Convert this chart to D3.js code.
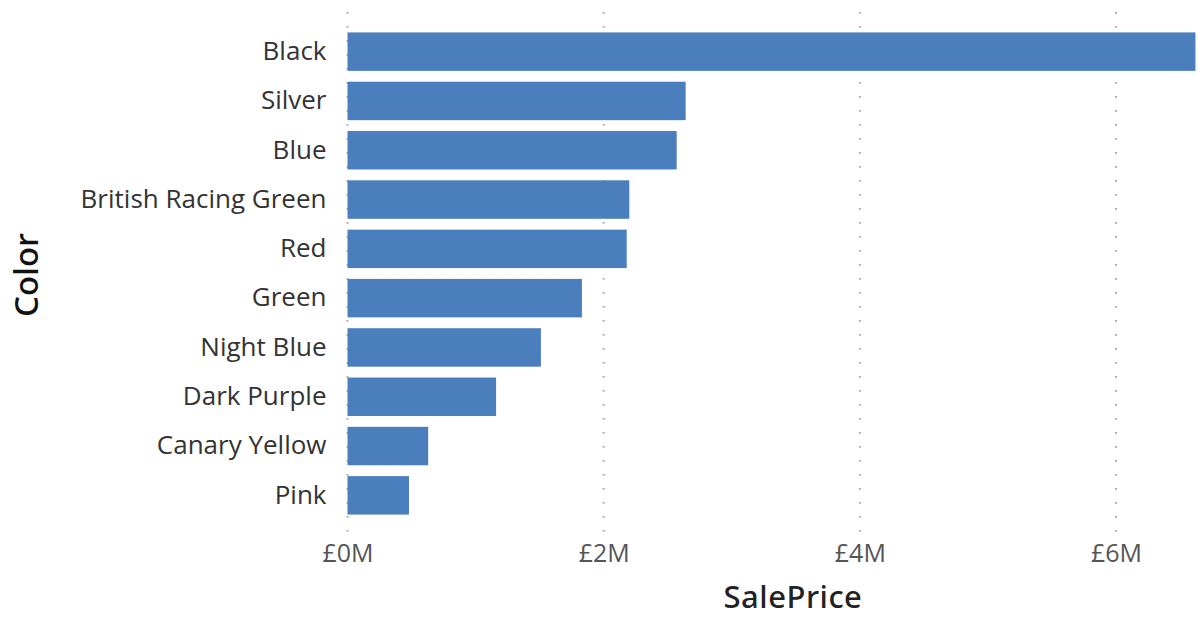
<!DOCTYPE html>
<html>
<head>
<meta charset="utf-8">
<script src="https://cdn.jsdelivr.net/npm/d3@7"></script>
<style>
  html, body { margin: 0; padding: 0; background: #fff; overflow: hidden; }
  svg { display: block; }
</style>
</head>
<body>
<svg id="chart"></svg>
<script>
(() => {

  // values, in £
  const colors = ['Black', 'Silver', 'Blue', 'British Racing Green', 'Red',
    'Green', 'Night Blue', 'Dark Purple', 'Canary Yellow', 'Pink'];
  const salePrice = [6620000, 2640000, 2570000, 2200000, 2180000,
    1830000, 1510000, 1160000, 630000, 480000];
  const tickValues = [0, 2000000, 4000000, 6000000];
  const tickLabels = ['£0M', '£2M', '£4M', '£6M'];

  const svgWidth = 1198;
  const svgHeight = 617;
  const margin = { top: 20, right: 0, bottom: 84, left: 347.5 };

  const dataset = colors.map((name, i) => ({ name, value: salePrice[i] }));

  const svg = d3.select('#chart')
    .attr('width', svgWidth)
    .attr('height', svgHeight);

  const xScale = d3.scaleLinear()
    .domain([0, 6640000])
    .range([margin.left, svgWidth - margin.right]);

  const yScale = d3.scaleBand()
    .domain(colors)
    .range([margin.top + 7, margin.top + 7 + 49.3 * colors.length])
    .paddingInner(0.22)
    .paddingOuter(0.11);

  // dotted gridlines
  svg.append('g')
    .selectAll('line')
    .data(tickValues)
    .enter()
    .append('line')
    .attr('x1', d => xScale(d))
    .attr('x2', d => xScale(d))
    .attr('y1', 12)
    .attr('y2', 536)
    .attr('stroke', '#adadad')
    .attr('stroke-width', 2)
    .attr('stroke-dasharray', '1.8 12.2');

  svg.append('g')
    .selectAll('rect')
    .data(dataset)
    .enter()
    .append('rect')
    .attr('x', xScale(0))
    .attr('y', d => yScale(d.name))
    .attr('width', d => xScale(d.value) - xScale(0))
    .attr('height', yScale.bandwidth())
    .attr('fill', '#4a7ebd');

  // category labels
  const yAxis = svg.append('g')
    .attr('transform', `translate(${xScale(0) - 21},0)`)
    .call(d3.axisLeft(yScale).tickSize(0).tickPadding(0));
  yAxis.select('.domain').remove();
  yAxis.selectAll('text')
    .attr('fill', '#333')
    .style('font-family', '"Open Sans", sans-serif')
    .style('font-size', '26px');

  // value ticks
  const xAxis = svg.append('g')
    .attr('transform', 'translate(0,544)')
    .call(d3.axisBottom(xScale)
      .tickValues(tickValues)
      .tickFormat((d, i) => tickLabels[i])
      .tickSize(0)
      .tickPadding(0));
  xAxis.select('.domain').remove();
  xAxis.selectAll('text')
    .attr('fill', '#555')
    .style('font-family', '"Open Sans", sans-serif')
    .style('font-size', '25px');

  svg.append('text')
    .text('SalePrice')
    .attr('x', 793)
    .attr('y', 608)
    .attr('text-anchor', 'middle')
    .attr('fill', '#222')
    .style('font-family', '"Noto Sans", sans-serif')
    .style('font-weight', 500)
    .style('letter-spacing', '0.5px')
    .style('font-size', '31px');

  svg.append('text')
    .text('Color')
    .attr('transform', 'translate(38,275) rotate(-90)')
    .attr('text-anchor', 'middle')
    .attr('fill', '#111')
    .style('font-family', '"Noto Sans", sans-serif')
    .style('font-weight', 500)
    .style('font-size', '33px');

})();
</script>
</body>
</html>
